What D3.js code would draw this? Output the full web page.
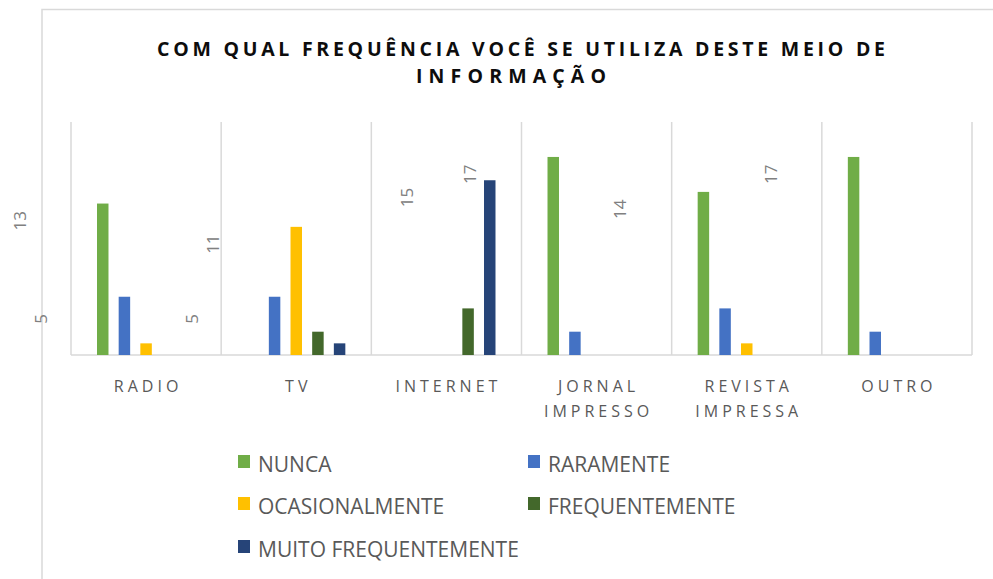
<!DOCTYPE html>
<html>
<head>
<meta charset="utf-8">
<script src="https://cdn.jsdelivr.net/npm/d3@7"></script>
<style>
  html, body { margin: 0; padding: 0; background: #fff; }
  svg { display: block; font-family: "Open Sans", "Noto Sans", sans-serif; }
</style>
</head>
<body>
<svg id="chart" width="993" height="579"></svg>
<script>
  var categories = ['RADIO', 'TV', 'INTERNET', 'JORNAL IMPRESSO', 'REVISTA IMPRESSA', 'OUTRO'];
  var seriesNames = ['NUNCA', 'RARAMENTE', 'OCASIONALMENTE', 'FREQUENTEMENTE', 'MUITO FREQUENTEMENTE'];
  var seriesColors = ['#70ad47', '#4472c4', '#ffc000', '#43682b', '#264478'];

  /* values per series, one entry per category */
  var nunca = [13, 0, 0, 17, 14, 17];
  var raramente = [5, 5, 0, 2, 4, 2];
  var ocasionalmente = [1, 11, 0, 0, 1, 0];
  var frequentemente = [0, 2, 4, 0, 0, 0];
  var muitoFrequentemente = [0, 1, 15, 0, 0, 0];
  var seriesValues = [nunca, raramente, ocasionalmente, frequentemente, muitoFrequentemente];

  var titleLines = ['COM QUAL FREQUÊNCIA VOCÊ SE UTILIZA DESTE MEIO DE', 'INFORMAÇÃO'];
  var yMax = 20;
  var labelMin = 5;

  var svg = d3.select('#chart');

  /* outer chart frame, cut by the picture edge */
  svg.append('path')
    .attr('d', 'M42,579 V9.5 H993')
    .attr('fill', 'none')
    .attr('stroke', '#d9d9d9')
    .attr('stroke-width', 1.5);

  /* title, letter-spaced */
  svg.append('text')
    .attr('x', 521).attr('y', 56)
    .attr('text-anchor', 'middle')
    .attr('font-size', 19.5).attr('font-weight', 700)
    .attr('fill', '#0d0d0d')
    .attr('textLength', 728).attr('lengthAdjust', 'spacing')
    .text(titleLines[0]);
  svg.append('text')
    .attr('x', 511).attr('y', 83)
    .attr('text-anchor', 'middle')
    .attr('font-size', 19.5).attr('font-weight', 700)
    .attr('fill', '#0d0d0d')
    .attr('textLength', 190).attr('lengthAdjust', 'spacing')
    .text(titleLines[1]);

  /* scales */
  var x0 = d3.scaleBand().domain(categories).range([71, 972]);
  var x1 = d3.scaleBand().domain(seriesNames).range([0, x0.bandwidth()])
    .paddingInner(0.47).paddingOuter(1.2);
  var y = d3.scaleLinear().domain([0, yMax]).range([355, 122]);

  /* vertical separators between categories */
  var sepX = categories.map(function(c) { return x0(c); }).concat([x0.range()[1]]);
  svg.append('g').selectAll('line')
    .data(sepX)
    .enter().append('line')
      .attr('x1', function(d) { return d; })
      .attr('x2', function(d) { return d; })
      .attr('y1', y(yMax))
      .attr('y2', y(0))
      .attr('stroke', '#d9d9d9')
      .attr('stroke-width', 1.5);

  /* baseline */
  svg.append('line')
    .attr('x1', x0.range()[0]).attr('x2', x0.range()[1])
    .attr('y1', y(0)).attr('y2', y(0))
    .attr('stroke', '#d9d9d9').attr('stroke-width', 1.5);

  /* bars */
  var rows = [];
  seriesNames.forEach(function(s, i) {
    categories.forEach(function(c, j) {
      rows.push({ series: s, cat: c, value: seriesValues[i][j], color: seriesColors[i] });
    });
  });

  svg.append('g').selectAll('rect')
    .data(rows.filter(function(d) { return d.value > 0; }))
    .enter().append('rect')
      .attr('x', function(d) { return x0(d.cat) + x1(d.series); })
      .attr('y', function(d) { return y(d.value); })
      .attr('width', x1.bandwidth())
      .attr('height', function(d) { return y(0) - y(d.value); })
      .attr('fill', function(d) { return d.color; });

  /* data labels: Excel left them shifted to the left of their bars */
  svg.append('g').selectAll('text')
    .data(rows.filter(function(d) { return d.value >= labelMin; }))
    .enter().append('text')
      .attr('transform', function(d) {
        var cx = x0(d.cat) + x1(d.series) + x1.bandwidth() / 2 - 77;
        var cy = y(d.value) + 27;
        return 'translate(' + cx + ',' + cy + ') rotate(-90)';
      })
      .attr('font-size', 17)
      .attr('fill', '#808080')
      .text(function(d) { return d.value; });

  /* category labels */
  var catG = svg.append('g').selectAll('text')
    .data(categories)
    .enter().append('text')
      .attr('x', function(d) { return x0(d) + x0.bandwidth() / 2 + 2; })
      .attr('y', 392)
      .attr('text-anchor', 'middle')
      .attr('font-size', 16)
      .attr('letter-spacing', 4)
      .attr('fill', '#595959');
  catG.each(function(d) {
    var words = d.split(' ');
    var t = d3.select(this);
    words.forEach(function(w, i) {
      t.append('tspan')
        .attr('x', t.attr('x'))
        .attr('dy', i === 0 ? 0 : 25)
        .text(w);
    });
  });

  /* legend */
  var legendPos = [[238, 472], [528, 472], [238, 514], [528, 514], [238, 557]];
  var legend = svg.append('g').selectAll('g')
    .data(seriesNames)
    .enter().append('g')
      .attr('transform', function(d, i) {
        return 'translate(' + legendPos[i][0] + ',' + legendPos[i][1] + ')';
      });
  legend.append('rect')
    .attr('x', 0).attr('y', -17)
    .attr('width', 12).attr('height', 13)
    .attr('fill', function(d, i) { return seriesColors[i]; });
  legend.append('text')
    .attr('x', 20).attr('y', 0)
    .attr('font-size', 21)
    .attr('fill', '#595959')
    .text(function(d) { return d; });
</script>
</body>
</html>
